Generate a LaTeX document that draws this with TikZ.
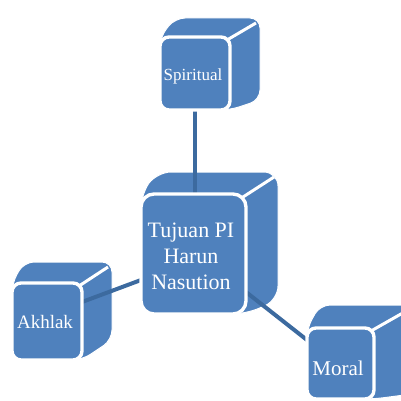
\documentclass[tikz,border=0pt]{standalone}
\usepackage{fontspec}
\setmainfont{Liberation Serif}
\definecolor{cubeblue}{HTML}{4F81BD}
\definecolor{linkblue}{HTML}{3C6A9F}
\tikzset{
  backpart/.style={fill=cubeblue, draw=white, line width=1pt, rounded corners=#1},
  frontface/.style={fill=cubeblue, draw=white, line width=3.4pt, rounded corners=#1},
  edgeline/.style={draw=white, line width=3pt},
  link/.style={draw=linkblue, line width=4pt},
  lbl/.style n args={2}{text=white, align=center, font=\fontsize{#1}{#2}\selectfont},
}
% \cubeback{x1}{y1}{x2}{y2}{bx1}{by1}{bx2}{by2}{radius}
\newcommand{\cubeback}[9]{%
  \path[backpart=#9] (#1,#4) -- (#1,#2) -- (#5,#6) -- (#7,#6) -- (#7,#8) -- (#3,#4) -- cycle;
  \draw[edgeline] (#3-3,#2+3) -- (#7-4,#6+5);
}
\begin{document}
\begin{tikzpicture}[x=1pt,y=-1pt]
\useasboundingbox (0,0) rectangle (400,401);
% back parts
\cubeback{160}{37}{230}{110}{175}{18}{260}{100}{10}
\cubeback{141}{194}{246}{314}{157}{172}{278}{300}{14}
\cubeback{12}{283}{82}{360}{24}{262}{112}{340}{10}
\cubeback{307}{328}{374}{399}{320}{305}{412}{394}{10}
% connector end points
\coordinate (s1) at (195,110);
\coordinate (s2) at (195,194);
\coordinate (a1) at (82,302);
\coordinate (a2) at (141,280);
\coordinate (m1) at (246,292);
\coordinate (m2) at (307,340);
\draw[link] (s1) -- (s2);
\draw[link] (a1) -- (a2);
\draw[link] (m1) -- (m2);
% front faces
\path[frontface=9] (160,37) rectangle (230,110);
\path[frontface=13] (141,194) rectangle (246,314);
\path[frontface=9] (12,283) rectangle (82,360);
\path[frontface=9] (307,328) rectangle (374,399);
% labels
\node[lbl={17}{20}] (spir) at (193,76) {Spiritual};
\node[lbl={22}{26}] (cent) at (191,256) {Tujuan PI\\Harun\\Nasution};
\node[lbl={19}{22}] (akh) at (45,322) {Akhlak};
\node[lbl={21}{24}] (mor) at (338,368) {Moral};
\end{tikzpicture}
\end{document}
